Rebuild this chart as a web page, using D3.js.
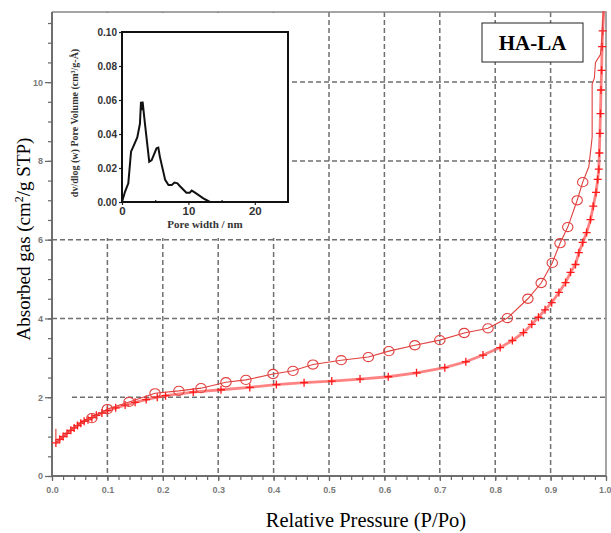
<!DOCTYPE html>
<html>
<head>
<meta charset="utf-8">
<script src="https://cdnjs.cloudflare.com/ajax/libs/d3/7.8.5/d3.min.js"></script>
<style>
  body { margin: 0; background: #fff; }
  svg { display: block; }
  .serif { font-family: "Liberation Serif", "Times New Roman", Times, serif; }
</style>
</head>
<body>
<div id="id_graph"></div>
<script>
// adsorption branch (+ markers)
var adsP = [0.007, 0.014, 0.02, 0.027, 0.034, 0.04, 0.046, 0.052, 0.058, 0.065, 0.072, 0.08, 0.09, 0.1,
    0.115, 0.132, 0.15, 0.17, 0.19, 0.205, 0.255, 0.305, 0.357, 0.405, 0.455, 0.505, 0.556, 0.607,
    0.658, 0.709, 0.747, 0.778, 0.809, 0.831, 0.851, 0.866, 0.878, 0.89, 0.902, 0.915, 0.927, 0.936,
    0.945, 0.951, 0.958, 0.965, 0.972, 0.977, 0.982, 0.985, 0.987, 0.988, 0.989, 0.99, 0.991, 0.992,
    0.993, 0.994, 0.996];
var adsV = [0.84, 0.93, 1.0, 1.08, 1.16, 1.22, 1.28, 1.34, 1.39, 1.43, 1.48, 1.54, 1.6, 1.66,
    1.73, 1.8, 1.87, 1.94, 2.0, 2.04, 2.13, 2.19, 2.25, 2.32, 2.37, 2.41, 2.46, 2.52,
    2.62, 2.75, 2.9, 3.07, 3.26, 3.44, 3.64, 3.85, 4.03, 4.22, 4.4, 4.66, 4.91, 5.17,
    5.37, 5.67, 5.93, 6.18, 6.51, 6.85, 7.2, 7.53, 7.79, 8.2, 8.7, 9.2, 9.8, 10.3,
    10.9, 11.3, 11.8];

// desorption branch (o markers where desMark is 1)
var desP = [0.995, 0.993, 0.99, 0.981, 0.979, 0.975, 0.975, 0.969, 0.958, 0.948, 0.931, 0.917, 0.903,
    0.883, 0.859, 0.822, 0.787, 0.744, 0.70, 0.655, 0.608, 0.571, 0.522, 0.471, 0.435, 0.399, 0.35,
    0.314, 0.269, 0.229, 0.186, 0.139, 0.1, 0.072, 0.04, 0.02, 0.007, 0.007];
var desV = [11.8, 11.2, 10.7, 10.5, 10.1, 9.95, 8.6, 7.85, 7.46, 7.0, 6.32, 5.91, 5.41,
    4.9, 4.5, 4.01, 3.75, 3.63, 3.45, 3.32, 3.17, 3.02, 2.94, 2.83, 2.67, 2.59, 2.44,
    2.38, 2.23, 2.16, 2.1, 1.88, 1.7, 1.47, 1.25, 1.0, 0.84, 1.2];
var desMark = [0, 0, 0, 0, 0, 0, 0, 0, 1, 1, 1, 1, 1, 1, 1, 1, 1, 1, 1, 1, 1, 1, 1, 1, 1, 1, 1,
    1, 1, 1, 1, 1, 1, 1, 0, 0, 0, 0];

// inset: pore size distribution
var poreW = [0, 0.45, 0.95, 1.36, 1.8, 2.3, 2.7, 2.86, 2.96, 3.1, 3.46, 4.1, 4.47, 5.2, 5.47, 5.7,
    6.5, 7.0, 7.5, 7.9, 8.35, 8.7, 9.7, 10.2, 10.5, 11.0, 12.25, 13.25];
var poreV = [0, 0.006, 0.011, 0.0296, 0.0335, 0.038, 0.046, 0.059, 0.054, 0.059, 0.046, 0.0237,
    0.0247, 0.0316, 0.032, 0.0267, 0.013, 0.01, 0.01, 0.0114, 0.011, 0.0094, 0.0055, 0.0055,
    0.0067, 0.0055, 0.0021, 0];

var xTicks = [0, 0.1, 0.2, 0.3, 0.4, 0.5, 0.6, 0.7, 0.8, 0.9, 1.0];
var yTicks = [0, 2, 4, 6, 8, 10];
var insetXTicks = [0, 10, 20];
var insetYTicks = [0, 0.02, 0.04, 0.06, 0.08, 0.10];

var W = 611, H = 533;
var svg = d3.select("#id_graph").append("svg").attr("width", W).attr("height", H);

var x = d3.scaleLinear().domain([0, 1]).range([52, 606]);
var y = d3.scaleLinear().domain([0, 11.78]).range([476, 12]);

var gridCol = "#6f6f6f", axCol = "#666", tickCol = "#7a7a7a";

// dashed grid
svg.append("g").selectAll("line").data(xTicks.slice(1, 10)).enter().append("line")
    .attr("x1", d => x(d)).attr("x2", d => x(d)).attr("y1", y.range()[1]).attr("y2", y.range()[0])
    .attr("stroke", gridCol).attr("stroke-width", 1.5).attr("stroke-dasharray", "5,3");
svg.append("g").selectAll("line").data(yTicks.slice(1)).enter().append("line")
    .attr("x1", d => d == 2 ? 72 : x.range()[0]).attr("x2", x.range()[1])
    .attr("y1", d => y(d)).attr("y2", d => y(d))
    .attr("stroke", gridCol).attr("stroke-width", 1.5).attr("stroke-dasharray", "5,3");

// frame top / right
svg.append("path")
    .attr("d", "M" + x(0) + "," + y.range()[1] + "H" + x(1) + "V" + y(0))
    .attr("fill", "none").attr("stroke", "#888").attr("stroke-width", 1.5);

// axes
var xAxis = svg.append("g").attr("transform", "translate(0," + y(0) + ")")
    .call(d3.axisBottom(x).tickValues(d3.range(0, 1.001, 0.02)).tickSize(4).tickFormat(""));
var xAxisMaj = svg.append("g").attr("transform", "translate(0," + y(0) + ")")
    .call(d3.axisBottom(x).tickValues(xTicks).tickSize(5).tickPadding(6).tickFormat(d3.format(".1f")));
var yAxis = svg.append("g").attr("transform", "translate(" + x(0) + ",0)")
    .call(d3.axisLeft(y).tickValues(d3.range(0, 11.6, 0.5)).tickSize(4).tickFormat(""));
var yAxisMaj = svg.append("g").attr("transform", "translate(" + x(0) + ",0)")
    .call(d3.axisLeft(y).tickValues(yTicks).tickSize(7).tickPadding(2));
[xAxis, xAxisMaj, yAxis, yAxisMaj].forEach(function (g) {
    g.attr("font-family", null).attr("font-size", null);
    g.select(".domain").attr("stroke", axCol).attr("stroke-width", 1.5);
    g.selectAll(".tick line").attr("stroke", axCol).attr("stroke-width", 1.2);
    g.selectAll("text").attr("fill", tickCol).attr("font-family", "Arial, 'Liberation Sans', sans-serif")
        .attr("font-size", "9px").attr("font-weight", "bold");
});
// last label sits at the window edge
xAxisMaj.selectAll(".tick text").filter(d => d === 1.0).attr("text-anchor", "end").attr("dx", 5);
yAxisMaj.select(".domain").attr("d", "M0," + y(0) + "V" + y.range()[1]);
xAxisMaj.select(".domain").attr("d", "M" + x(0) + ",0H" + x(1));
yAxis.select(".domain").attr("d", "M0," + y(0) + "V" + y.range()[1]);
xAxis.select(".domain").attr("d", "M" + x(0) + ",0H" + x(1));

// axis titles
svg.append("text").attr("class", "serif").attr("x", 366).attr("y", 527).attr("text-anchor", "middle")
    .attr("font-size", "20.5px").text("Relative Pressure (P/Po)");
var yt = svg.append("text").attr("class", "serif").attr("transform", "translate(30,239) rotate(-90)")
    .attr("text-anchor", "middle").attr("font-size", "19px");
yt.append("tspan").text("Absorbed  gas  (cm");
yt.append("tspan").attr("dy", -7).attr("font-size", "12px").text("2");
yt.append("tspan").attr("dy", 7).text("/g  STP)");

// adsorption line + markers
var ads = adsP.map((p, i) => ({ p: p, v: adsV[i] }));
var des = desP.map((p, i) => ({ p: p, v: desV[i], m: desMark[i] }));
var line = d3.line().x(d => x(d.p)).y(d => y(d.v));

svg.append("path").datum(ads).attr("d", line).attr("fill", "none")
    .attr("stroke", "#ff5a5a").attr("stroke-opacity", 0.75).attr("stroke-width", 2.8);
svg.append("g").selectAll("path").data(ads.slice(0, ads.length - 1)).enter().append("path")
    .attr("d", d => "M" + (x(d.p) - 4) + "," + y(d.v) + "h8M" + x(d.p) + "," + (y(d.v) - 4) + "v8")
    .attr("stroke", "#ff1a1a").attr("stroke-width", 1.3);

// desorption line + circles
svg.append("path").datum(des).attr("d", line).attr("fill", "none")
    .attr("stroke", "#e0413f").attr("stroke-width", 1.1);
svg.append("g").selectAll("ellipse").data(des.filter(d => d.m)).enter().append("ellipse")
    .attr("cx", d => x(d.p)).attr("cy", d => y(d.v)).attr("rx", 5.2).attr("ry", 4.6)
    .attr("fill", "none").attr("stroke", "#e0413f").attr("stroke-width", 1.1);

// HA-LA label box
svg.append("rect").attr("x", 482).attr("y", 23).attr("width", 101).attr("height", 39)
    .attr("fill", "#fff").attr("stroke", "#222").attr("stroke-width", 1);
svg.append("text").attr("class", "serif").attr("x", 532.5).attr("y", 50).attr("text-anchor", "middle")
    .attr("font-size", "21px").attr("font-weight", "bold").text("HA-LA");

// inset panel
svg.append("rect").attr("x", 53).attr("y", 13).attr("width", 237).attr("height", 225).attr("fill", "#fff");
var ix = d3.scaleLinear().domain([0, 25]).range([122, 288]);
var iy = d3.scaleLinear().domain([0, 0.1]).range([202, 32]);

var ixAxis = svg.append("g").attr("transform", "translate(0," + iy(0) + ")")
    .call(d3.axisBottom(ix).tickValues(insetXTicks).tickSize(3).tickPadding(2).tickFormat(d3.format("d")));
var ixMinor = svg.append("g").attr("transform", "translate(0," + iy(0) + ")")
    .call(d3.axisTop(ix).tickValues([5, 15]).tickSize(2).tickFormat(""));
var iyAxis = svg.append("g").attr("transform", "translate(" + ix(0) + ",0)")
    .call(d3.axisLeft(iy).tickValues(insetYTicks).tickSize(3).tickPadding(2).tickFormat(d3.format(".2f")));
[ixAxis, ixMinor, iyAxis].forEach(function (g) {
    g.attr("font-family", null).attr("font-size", null);
    g.select(".domain").remove();
    g.selectAll(".tick line").attr("stroke", "#222").attr("stroke-width", 1.2);
    g.selectAll("text").attr("fill", "#333").attr("font-family", "Arial, 'Liberation Sans', sans-serif")
        .attr("font-weight", "bold").attr("font-size", "10px");
});
ixAxis.selectAll("text").attr("font-size", "11.5px");
svg.append("rect").attr("x", ix(0)).attr("y", iy(0.1)).attr("width", ix(25) - ix(0)).attr("height", iy(0) - iy(0.1))
    .attr("fill", "none").attr("stroke", "#111").attr("stroke-width", 2);

var pore = poreW.map((w, i) => ({ w: w, v: poreV[i] }));
svg.append("path").datum(pore)
    .attr("d", d3.line().x(d => ix(d.w)).y(d => iy(d.v)))
    .attr("fill", "none").attr("stroke", "#111").attr("stroke-width", 2);

svg.append("text").attr("class", "serif").attr("x", 205).attr("y", 228).attr("text-anchor", "middle")
    .attr("font-size", "11px").attr("font-weight", "bold").attr("fill", "#333").text("Pore width / nm");
svg.append("text").attr("class", "serif").attr("transform", "translate(78,123) rotate(-90)")
    .attr("text-anchor", "middle").attr("font-size", "10px").attr("font-weight", "bold").attr("fill", "#333")
    .text("dv/dlog (w) Pore Volume (cm³/g-Å)");
</script>
</body>
</html>
